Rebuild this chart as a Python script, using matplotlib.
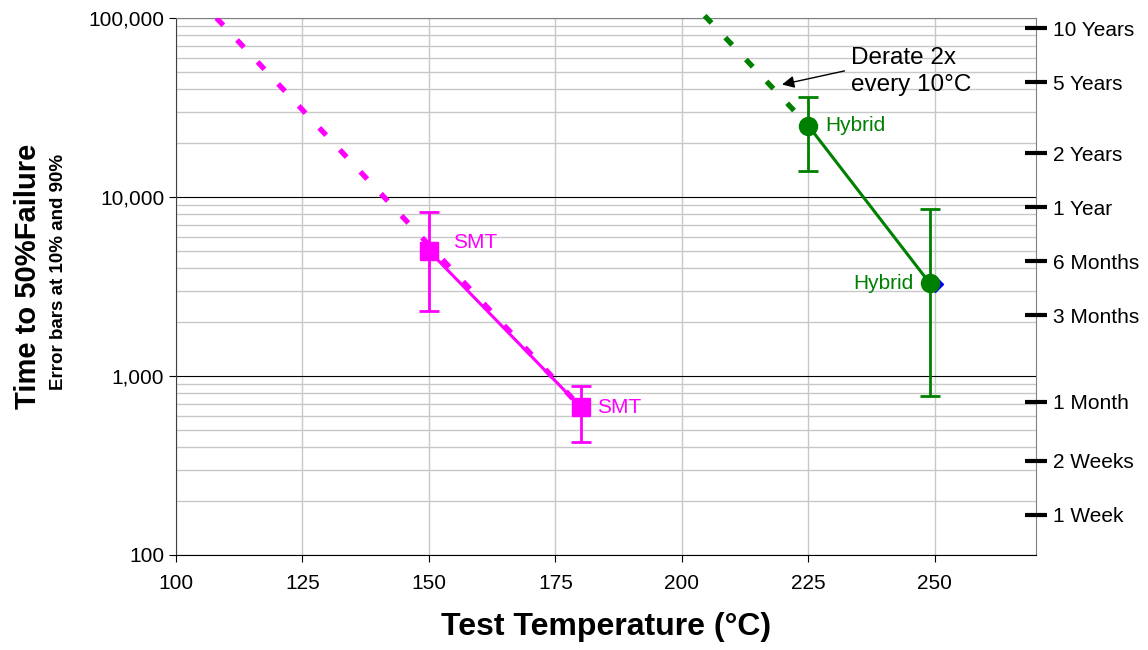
"""
Time to 50% failure vs test temperature.
"""
import numpy as np
import matplotlib.pyplot as plt
from matplotlib.ticker import FixedLocator, LogLocator, NullFormatter

plt.rcParams['font.family'] = ['Liberation Sans', 'DejaVu Sans']

# SMT data (hours)
smt_temp = [150, 180]
smt_life = [5000, 670]
smt_lo = [2300, 430]
smt_hi = [8250, 880]
smt_derate_temp = [108, 180]
smt_derate_life = [100000, 670]

# Hybrid data (hours)
hyb_temp = [225, 249]
hyb_life = [25000, 3300]
hyb_lo = [14000, 775]
hyb_hi = [36000, 8600]
hyb_derate_temp = [204.5, 225]
hyb_derate_life = [103000, 25000]
extra_temp = [250]
extra_life = [3250]

# right axis, in hours
time_ticks = [168, 336, 720, 2190, 4380, 8760, 17520, 43800, 87600]
time_labels = ['1 Week', '2 Weeks', '1 Month', '3 Months', '6 Months',
               '1 Year', '2 Years', '5 Years', '10 Years']

MAG = '#ff00ff'
GRN = '#008000'


def main():
    """Draw chart."""
    fig = plt.figure(figsize=(11.48, 6.5), dpi=100)
    ax = fig.add_axes([176 / 1148, 1 - 555 / 650, 860 / 1148, 537 / 650])

    ax.set_yscale('log')
    ax.set_xlim(100, 270)
    ax.set_ylim(100, 100000)

    # grid
    ax.set_xticks([100, 125, 150, 175, 200, 225, 250])
    ax.yaxis.set_minor_locator(LogLocator(base=10, subs=np.arange(2, 10)))
    ax.yaxis.set_minor_formatter(NullFormatter())
    ax.grid(True, which='major', axis='x', color='#c8c8c8', lw=1)
    ax.grid(True, which='major', axis='y', color='black', lw=0.8)
    ax.grid(True, which='minor', axis='y', color='#c8c8c8', lw=1)
    ax.set_axisbelow(True)
    ax.set_yticks([100, 1000, 10000, 100000])
    ax.set_yticklabels(['100', '1,000', '10,000', '100,000'])
    ax.tick_params(axis='both', which='major', labelsize=15, length=5,
                   direction='out')
    ax.tick_params(axis='x', which='major', pad=9)
    ax.tick_params(axis='y', which='minor', length=0)
    ax.spines['top'].set_color('#808080')
    ax.spines['right'].set_color('#808080')
    ax.spines['left'].set_color('#404040')

    # derate lines
    ax.plot(smt_derate_temp, smt_derate_life, color=MAG, lw=3.8,
            dashes=(1.9, 3.8), zorder=3)
    ax.plot(hyb_derate_temp, hyb_derate_life, color=GRN, lw=3.8,
            dashes=(1.9, 3.8), clip_on=False, zorder=3)

    # data with error bars
    ax.errorbar(smt_temp, smt_life,
                yerr=[np.subtract(smt_life, smt_lo), np.subtract(smt_hi, smt_life)],
                color=MAG, lw=2.2, marker='s', ms=13, elinewidth=2,
                capsize=7, capthick=2, zorder=4)
    ax.plot(extra_temp, extra_life, marker='D', color='#0000ff', ms=8,
            ls='none', zorder=4)
    ax.errorbar(hyb_temp, hyb_life,
                yerr=[np.subtract(hyb_life, hyb_lo), np.subtract(hyb_hi, hyb_life)],
                color=GRN, lw=2.2, marker='o', ms=13, elinewidth=2,
                capsize=7, capthick=2, zorder=5)

    # point labels
    ax.annotate('SMT', (smt_temp[0], smt_life[0]), xytext=(17, 6),
                textcoords='offset points', color=MAG, fontsize=15,
                va='center', ha='left')
    ax.annotate('SMT', (smt_temp[1], smt_life[1]), xytext=(12, 0),
                textcoords='offset points', color=MAG, fontsize=15,
                va='center', ha='left')
    ax.annotate('Hybrid', (hyb_temp[0], hyb_life[0]), xytext=(12, 0),
                textcoords='offset points', color=GRN, fontsize=15,
                va='center', ha='left')
    ax.annotate('Hybrid', (hyb_temp[1], hyb_life[1]), xytext=(-12, 0),
                textcoords='offset points', color=GRN, fontsize=15,
                va='center', ha='right')

    ax.annotate('Derate 2x\nevery 10°C', xy=(219.8, 42500),
                xytext=(233.5, 50000), textcoords='data', fontsize=17.5,
                ha='left', va='center', linespacing=1.3,
                arrowprops=dict(arrowstyle='-|>', color='black', lw=1,
                                mutation_scale=18, relpos=(0, 0.55),
                                shrinkA=3, shrinkB=0))

    # labels
    ax.set_xlabel('Test Temperature (°C)', fontsize=23, fontweight='bold',
                  labelpad=13)
    fig.text(28 / 1148, 1 - 276 / 650, 'Time to 50%Failure', rotation=90,
             fontsize=21, fontweight='bold', ha='center', va='center')
    fig.text(59 / 1148, 1 - 272 / 650, 'Error bars at 10% and 90%',
             rotation=90, fontsize=13.5, fontweight='bold',
             ha='center', va='center')

    # right axis with durations
    ax2 = ax.twinx()
    ax2.set_yscale('log')
    ax2.set_ylim(100, 100000)
    ax2.yaxis.set_major_locator(FixedLocator(time_ticks))
    ax2.set_yticklabels(time_labels)
    ax2.yaxis.set_minor_locator(FixedLocator([]))
    ax2.tick_params(axis='y', which='major', direction='inout', length=16,
                    width=3, labelsize=15, pad=4, color='black')
    for s in ax2.spines.values():
        s.set_visible(False)

    fig.savefig('out.png', dpi=100)


if __name__ == '__main__':
    main()
